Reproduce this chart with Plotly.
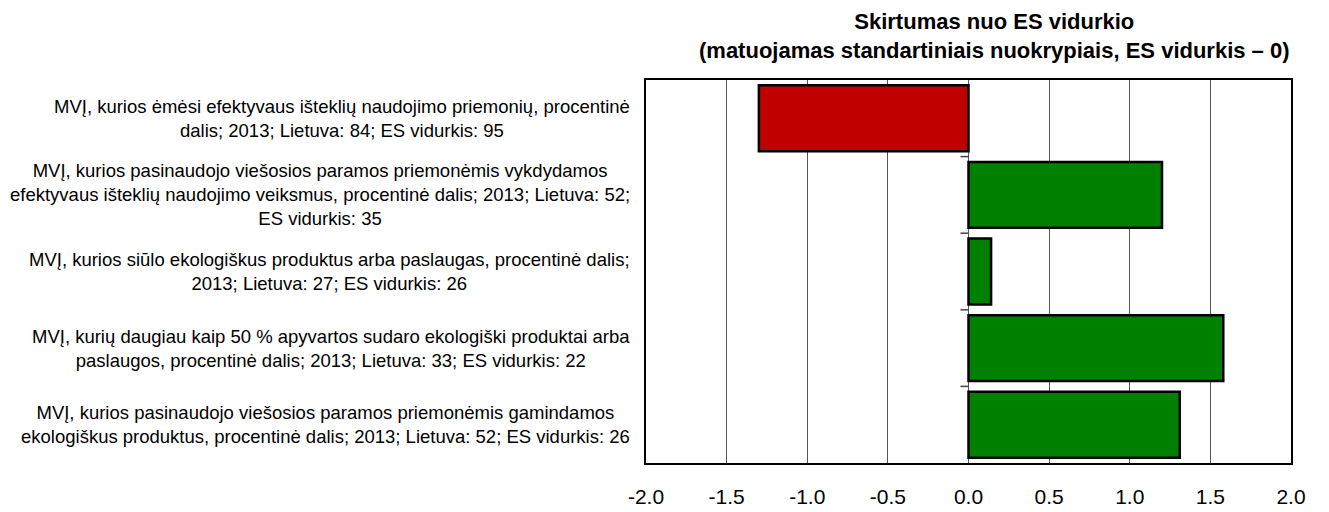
import plotly.graph_objects as go

labels = [
    "MVĮ, kurios ėmėsi efektyvaus išteklių naudojimo priemonių, procentinė<br>dalis; 2013; Lietuva: 84; ES vidurkis: 95",
    "MVĮ, kurios pasinaudojo viešosios paramos priemonėmis vykdydamos<br>efektyvaus išteklių naudojimo veiksmus, procentinė dalis; 2013; Lietuva: 52;<br>ES vidurkis: 35",
    "MVĮ, kurios siūlo ekologiškus produktus arba paslaugas, procentinė dalis;<br>2013; Lietuva: 27; ES vidurkis: 26",
    "MVĮ, kurių daugiau kaip 50 % apyvartos sudaro ekologiški produktai arba<br>paslaugos, procentinė dalis; 2013; Lietuva: 33; ES vidurkis: 22",
    "MVĮ, kurios pasinaudojo viešosios paramos priemonėmis gamindamos<br>ekologiškus produktus, procentinė dalis; 2013; Lietuva: 52; ES vidurkis: 26",
]
values = [-1.30, 1.20, 0.14, 1.58, 1.31]
colors = ["#C00000" if v < 0 else "#008000" for v in values]
x_ticks = [-2.0, -1.5, -1.0, -0.5, 0.0, 0.5, 1.0, 1.5, 2.0]
title_text = "<b>Skirtumas nuo ES vidurkio<br>(matuojamas standartiniais nuokrypiais, ES vidurkis – 0)</b>"

FONT = "Liberation Sans, Arial, sans-serif"

fig = go.Figure()
fig.add_trace(go.Bar(
    x=values, y=labels, orientation="h",
    marker=dict(color=colors, line=dict(color="black", width=2.5)),
    showlegend=False, hoverinfo="x",
))

# small y-axis ticks at category boundaries on the zero line
for i in range(len(labels) - 1):
    fig.add_shape(type="line", xref="x", yref="y",
                  x0=-0.05, x1=0, y0=i + 0.5, y1=i + 0.5,
                  line=dict(color="#444", width=1.5))

for lab in labels:
    fig.add_annotation(text=lab, xref="paper", yref="y", x=-0.021, y=lab,
                       xanchor="right", yanchor="middle", align="center",
                       showarrow=False,
                       font=dict(family=FONT, size=18.5, color="black"))

fig.add_annotation(text=title_text, xref="paper", yref="paper", x=0.54, y=1,
                   xanchor="center", yanchor="bottom", yshift=16, borderpad=0,
                   align="center", showarrow=False,
                   font=dict(family=FONT, size=22, color="black"))

fig.update_layout(
    width=1329, height=512,
    margin=dict(l=638, r=46, t=72, b=46),
    paper_bgcolor="white", plot_bgcolor="white",
    bargap=0.14,
    xaxis=dict(range=[-2, 2], tickvals=x_ticks,
               ticktext=[f"{v:.1f}" for v in x_ticks],
               showgrid=True, gridcolor="#555", gridwidth=1,
               zeroline=False, showline=True, mirror=True,
               linecolor="black", linewidth=1.5, ticks="",
               ticklabelstandoff=14,
               tickfont=dict(family=FONT, size=21, color="black")),
    yaxis=dict(autorange="reversed", showticklabels=False, showgrid=False,
               zeroline=False, showline=True, mirror=True,
               linecolor="black", linewidth=1.5, ticks=""),
)

fig.write_html("out.html")
